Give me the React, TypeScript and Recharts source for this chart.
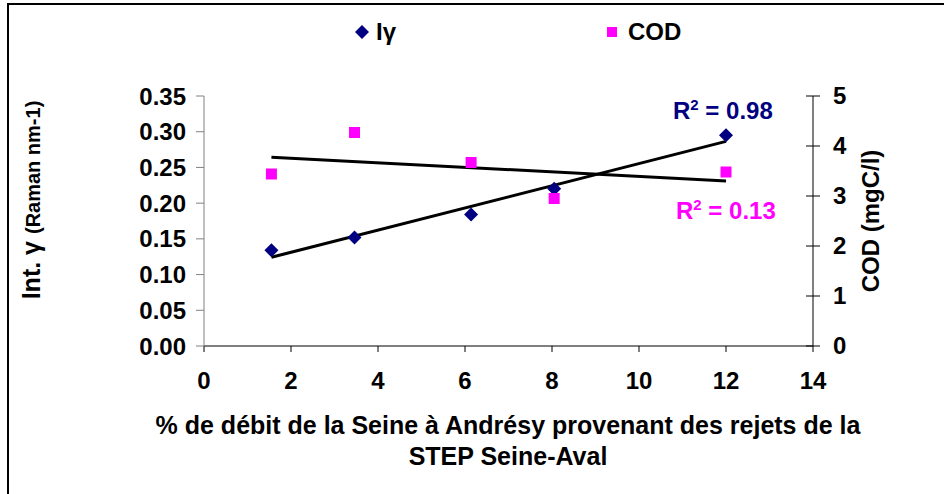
import React from 'react';
import { ScatterChart, Scatter, XAxis, YAxis } from 'recharts';

// % of Seine flow at Andrésy coming from the Seine-Aval plant
const debitPct = [1.55, 3.46, 6.14, 8.05, 12.0];
// Int. gamma (Raman nm-1)
const intGamma = [0.134, 0.152, 0.184, 0.22, 0.295];
// COD (mgC/l)
const codValues = [3.44, 4.27, 3.67, 2.95, 3.48];

const xTicks = [0, 2, 4, 6, 8, 10, 12, 14];
const leftTicks = [0, 0.05, 0.1, 0.15, 0.2, 0.25, 0.3, 0.35];
const rightTicks = [0, 1, 2, 3, 4, 5];

const NAVY = '#000080';
const PINK = '#FF00FF';
const FONT = '"Liberation Sans", Arial, sans-serif';

// least squares trend line over the x range of the data
function trend(xs: number[], ys: number[]) {
  const n = xs.length;
  const mx = xs.reduce((a, b) => a + b, 0) / n;
  const my = ys.reduce((a, b) => a + b, 0) / n;
  let sxy = 0;
  let sxx = 0;
  xs.forEach((x, i) => {
    sxy += (x - mx) * (ys[i] - my);
    sxx += (x - mx) * (x - mx);
  });
  const slope = sxy / sxx;
  const b = my - slope * mx;
  const x0 = Math.min(...xs);
  const x1 = Math.max(...xs);
  return [
    { x: x0, y: b + slope * x0 },
    { x: x1, y: b + slope * x1 },
  ];
}

const gammaData = debitPct.map((x, i) => ({ x, y: intGamma[i] }));
const codData = debitPct.map((x, i) => ({ x, y: codValues[i] }));
const gammaTrend = trend(debitPct, intGamma);
const codTrend = trend(debitPct, codValues);

const Diamond = (props: any) => {
  const { cx, cy } = props;
  const r = 7;
  return <path d={`M${cx},${cy - r}L${cx + r},${cy}L${cx},${cy + r}L${cx - r},${cy}Z`} fill={NAVY} />;
};

const Square = (props: any) => {
  const { cx, cy } = props;
  const s = 11;
  return <rect x={cx - s / 2} y={cy - s / 2} width={s} height={s} fill={PINK} />;
};

const NoDot = () => <g />;

const RightTick = (props: any) => {
  const { x, y, payload } = props;
  // inner half of the cross tick (outer half is drawn by tickLine)
  const ax = x - 13 - 7;
  return (
    <g>
      <line x1={ax - 7} y1={y} x2={ax} y2={y} stroke="#000" />
      <text x={x} y={y} dy="0.35em" textAnchor="start" fill="#000" fontSize={24} fontWeight="bold" fontFamily={FONT}>
        {payload.value}
      </text>
    </g>
  );
};

const tickStyle = { fill: '#000', fontSize: 24, fontWeight: 'bold', fontFamily: FONT };

const abs = (left: number, top: number, extra: React.CSSProperties = {}): React.CSSProperties => ({
  position: 'absolute',
  left,
  top,
  whiteSpace: 'nowrap',
  lineHeight: 1,
  fontFamily: FONT,
  fontWeight: 'bold',
  ...extra,
});

export default function App() {
  return (
    <div style={{ position: 'absolute', left: 0, top: 0, width: 944, height: 494, background: '#fff', overflow: 'hidden' }}>
      <div
        style={{
          position: 'absolute',
          left: 7,
          top: 3,
          width: 944,
          height: 494,
          borderLeft: '2px solid #000',
          borderTop: '2px solid #000',
        }}
      />
      <ScatterChart width={944} height={494} margin={{ top: 96, right: 71, bottom: 108, left: 144 }}>
        <XAxis
          type="number"
          dataKey="x"
          domain={[0, 14]}
          ticks={xTicks}
          height={40}
          axisLine={{ stroke: '#000' }}
          tickLine={{ stroke: '#000' }}
          tickSize={6}
          tickMargin={20}
          tick={tickStyle}
        />
        <YAxis
          yAxisId="left"
          type="number"
          dataKey="y"
          domain={[0, 0.35]}
          ticks={leftTicks}
          tickFormatter={(v: number) => v.toFixed(2)}
          width={60}
          axisLine={{ stroke: '#808080' }}
          tickLine={{ stroke: '#808080' }}
          tickSize={8}
          tickMargin={10}
          tick={tickStyle}
        />
        <YAxis
          yAxisId="right"
          orientation="right"
          type="number"
          dataKey="y"
          domain={[0, 5]}
          ticks={rightTicks}
          width={60}
          axisLine={{ stroke: '#000' }}
          tickLine={{ stroke: '#000' }}
          tickSize={7}
          tickMargin={13}
          tick={(p: any) => <RightTick {...p} />}
        />
        <Scatter yAxisId="left" data={gammaTrend} line={{ stroke: '#000', strokeWidth: 3 }} shape={NoDot} isAnimationActive={false} />
        <Scatter yAxisId="right" data={codTrend} line={{ stroke: '#000', strokeWidth: 3 }} shape={NoDot} isAnimationActive={false} />
        <Scatter yAxisId="left" name="Iγ" data={gammaData} shape={Diamond} isAnimationActive={false} />
        <Scatter yAxisId="right" name="COD" data={codData} shape={Square} isAnimationActive={false} />
      </ScatterChart>

      {/* legend */}
      <svg style={{ position: 'absolute', left: 354, top: 24 }} width={16} height={16}>
        <path d="M8,1L15,8L8,15L1,8Z" fill={NAVY} />
      </svg>
      <div style={abs(376, 20, { fontSize: 24 })}>Iγ</div>
      <div style={{ position: 'absolute', left: 607, top: 27, width: 10, height: 10, background: PINK }} />
      <div style={abs(628, 20, { fontSize: 24 })}>COD</div>

      {/* R² labels */}
      <div style={abs(673, 97, { fontSize: 24, color: NAVY })}>
        R<sup style={{ fontSize: 15 }}>2</sup> = 0.98
      </div>
      <div style={abs(676, 197, { fontSize: 24, color: PINK })}>
        R<sup style={{ fontSize: 15 }}>2</sup> = 0.13
      </div>

      {/* axis titles */}
      <div style={abs(31, 200, { transform: 'translate(-50%, -50%) rotate(-90deg)', fontSize: 25 })}>
        Int. γ <span style={{ fontSize: 20 }}>(Raman nm-1)</span>
      </div>
      <div style={abs(871, 221, { transform: 'translate(-50%, -50%) rotate(-90deg)', fontSize: 24 })}>COD (mgC/l)</div>
      <div style={abs(0, 410, { width: 1016, textAlign: 'center', fontSize: 25, lineHeight: '31px' })}>
        % de débit de la Seine à Andrésy provenant des rejets de la
        <br />
        STEP Seine-Aval
      </div>
    </div>
  );
}
